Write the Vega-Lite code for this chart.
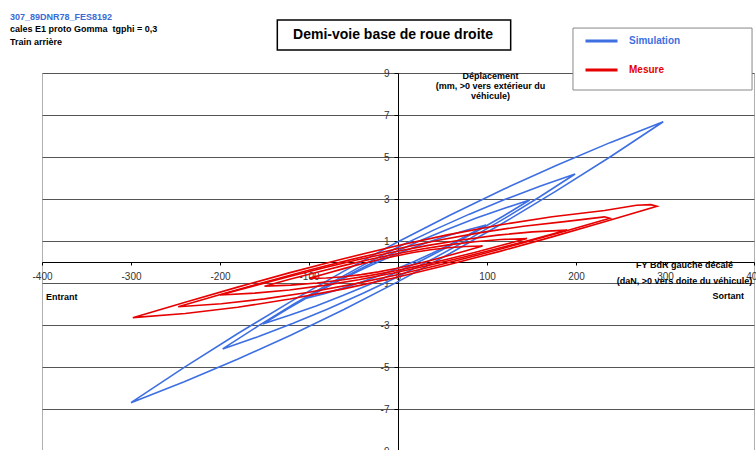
{
  "$schema": "https://vega.github.io/schema/vega-lite/v6.json",
  "width": 712,
  "height": 378,
  "autosize": {"type": "none"},
  "padding": {"left": 42, "top": 73, "right": 2, "bottom": 0},
  "background": "white",
  "config": {"font": "Liberation Sans", "view": {"stroke": "#b0b0b0", "strokeWidth": 1}},
  "title": {
    "text": "307_89DNR78_FES8192",
    "subtitle": ["cales E1 proto Gomma\u00a0 tgphi = 0,3", "Train arrière"],
    "anchor": "start",
    "frame": "group",
    "dx": -32,
    "offset": -28,
    "color": "#3a6bd6",
    "font": "Liberation Sans",
    "fontSize": 9,
    "fontWeight": "bold",
    "subtitleColor": "#000",
    "subtitleFont": "Liberation Sans",
    "subtitleFontSize": 9,
    "subtitleFontWeight": "bold",
    "subtitleLineHeight": 13,
    "subtitlePadding": 3
  },
  "datasets": {
    "loops": [
      {"s":"Simulation","l":"B1","i":0,"x":-300,"y":-6.7},
      {"s":"Simulation","l":"B1","i":1,"x":-240.2,"y":-5.704},
      {"s":"Simulation","l":"B1","i":2,"x":-180.4,"y":-4.632},
      {"s":"Simulation","l":"B1","i":3,"x":-120.6,"y":-3.484},
      {"s":"Simulation","l":"B1","i":4,"x":-60.8,"y":-2.26},
      {"s":"Simulation","l":"B1","i":5,"x":-1,"y":-0.96},
      {"s":"Simulation","l":"B1","i":6,"x":58.8,"y":0.416},
      {"s":"Simulation","l":"B1","i":7,"x":118.6,"y":1.868},
      {"s":"Simulation","l":"B1","i":8,"x":178.4,"y":3.396},
      {"s":"Simulation","l":"B1","i":9,"x":238.2,"y":5.0},
      {"s":"Simulation","l":"B1","i":10,"x":298,"y":6.68},
      {"s":"Simulation","l":"B1","i":11,"x":238.2,"y":5.684},
      {"s":"Simulation","l":"B1","i":12,"x":178.4,"y":4.612},
      {"s":"Simulation","l":"B1","i":13,"x":118.6,"y":3.464},
      {"s":"Simulation","l":"B1","i":14,"x":58.8,"y":2.24},
      {"s":"Simulation","l":"B1","i":15,"x":-1,"y":0.94},
      {"s":"Simulation","l":"B1","i":16,"x":-60.8,"y":-0.436},
      {"s":"Simulation","l":"B1","i":17,"x":-120.6,"y":-1.888},
      {"s":"Simulation","l":"B1","i":18,"x":-180.4,"y":-3.416},
      {"s":"Simulation","l":"B1","i":19,"x":-240.2,"y":-5.02},
      {"s":"Simulation","l":"B1","i":20,"x":-300,"y":-6.7},

      {"s":"Simulation","l":"B2","i":0,"x":-197,"y":-4.14},
      {"s":"Simulation","l":"B2","i":1,"x":-157.4,"y":-3.559},
      {"s":"Simulation","l":"B2","i":2,"x":-117.8,"y":-2.922},
      {"s":"Simulation","l":"B2","i":3,"x":-78.2,"y":-2.229},
      {"s":"Simulation","l":"B2","i":4,"x":-38.6,"y":-1.48},
      {"s":"Simulation","l":"B2","i":5,"x":1,"y":-0.675},
      {"s":"Simulation","l":"B2","i":6,"x":40.6,"y":0.186},
      {"s":"Simulation","l":"B2","i":7,"x":80.2,"y":1.103},
      {"s":"Simulation","l":"B2","i":8,"x":119.8,"y":2.076},
      {"s":"Simulation","l":"B2","i":9,"x":159.4,"y":3.105},
      {"s":"Simulation","l":"B2","i":10,"x":199,"y":4.19},
      {"s":"Simulation","l":"B2","i":11,"x":159.4,"y":3.609},
      {"s":"Simulation","l":"B2","i":12,"x":119.8,"y":2.972},
      {"s":"Simulation","l":"B2","i":13,"x":80.2,"y":2.279},
      {"s":"Simulation","l":"B2","i":14,"x":40.6,"y":1.53},
      {"s":"Simulation","l":"B2","i":15,"x":1,"y":0.725},
      {"s":"Simulation","l":"B2","i":16,"x":-38.6,"y":-0.136},
      {"s":"Simulation","l":"B2","i":17,"x":-78.2,"y":-1.053},
      {"s":"Simulation","l":"B2","i":18,"x":-117.8,"y":-2.026},
      {"s":"Simulation","l":"B2","i":19,"x":-157.4,"y":-3.055},
      {"s":"Simulation","l":"B2","i":20,"x":-197,"y":-4.14},

      {"s":"Simulation","l":"B3","i":0,"x":-152,"y":-2.95},
      {"s":"Simulation","l":"B3","i":1,"x":-122,"y":-2.54},
      {"s":"Simulation","l":"B3","i":2,"x":-92,"y":-2.09},
      {"s":"Simulation","l":"B3","i":3,"x":-62,"y":-1.6},
      {"s":"Simulation","l":"B3","i":4,"x":-32,"y":-1.07},
      {"s":"Simulation","l":"B3","i":5,"x":-2,"y":-0.5},
      {"s":"Simulation","l":"B3","i":6,"x":28,"y":0.11},
      {"s":"Simulation","l":"B3","i":7,"x":58,"y":0.76},
      {"s":"Simulation","l":"B3","i":8,"x":88,"y":1.45},
      {"s":"Simulation","l":"B3","i":9,"x":118,"y":2.18},
      {"s":"Simulation","l":"B3","i":10,"x":148,"y":2.95},
      {"s":"Simulation","l":"B3","i":11,"x":118,"y":2.54},
      {"s":"Simulation","l":"B3","i":12,"x":88,"y":2.09},
      {"s":"Simulation","l":"B3","i":13,"x":58,"y":1.6},
      {"s":"Simulation","l":"B3","i":14,"x":28,"y":1.07},
      {"s":"Simulation","l":"B3","i":15,"x":-2,"y":0.5},
      {"s":"Simulation","l":"B3","i":16,"x":-32,"y":-0.11},
      {"s":"Simulation","l":"B3","i":17,"x":-62,"y":-0.76},
      {"s":"Simulation","l":"B3","i":18,"x":-92,"y":-1.45},
      {"s":"Simulation","l":"B3","i":19,"x":-122,"y":-2.18},
      {"s":"Simulation","l":"B3","i":20,"x":-152,"y":-2.95},

      {"s":"Simulation","l":"B4","i":0,"x":-103,"y":-1.73},
      {"s":"Simulation","l":"B4","i":1,"x":-82.8,"y":-1.507},
      {"s":"Simulation","l":"B4","i":2,"x":-62.6,"y":-1.256},
      {"s":"Simulation","l":"B4","i":3,"x":-42.4,"y":-0.977},
      {"s":"Simulation","l":"B4","i":4,"x":-22.2,"y":-0.67},
      {"s":"Simulation","l":"B4","i":5,"x":-2,"y":-0.335},
      {"s":"Simulation","l":"B4","i":6,"x":18.2,"y":0.028},
      {"s":"Simulation","l":"B4","i":7,"x":38.4,"y":0.419},
      {"s":"Simulation","l":"B4","i":8,"x":58.6,"y":0.838},
      {"s":"Simulation","l":"B4","i":9,"x":78.8,"y":1.285},
      {"s":"Simulation","l":"B4","i":10,"x":99,"y":1.76},
      {"s":"Simulation","l":"B4","i":11,"x":78.8,"y":1.537},
      {"s":"Simulation","l":"B4","i":12,"x":58.6,"y":1.286},
      {"s":"Simulation","l":"B4","i":13,"x":38.4,"y":1.007},
      {"s":"Simulation","l":"B4","i":14,"x":18.2,"y":0.7},
      {"s":"Simulation","l":"B4","i":15,"x":-2,"y":0.365},
      {"s":"Simulation","l":"B4","i":16,"x":-22.2,"y":0.002},
      {"s":"Simulation","l":"B4","i":17,"x":-42.4,"y":-0.389},
      {"s":"Simulation","l":"B4","i":18,"x":-62.6,"y":-0.808},
      {"s":"Simulation","l":"B4","i":19,"x":-82.8,"y":-1.255},
      {"s":"Simulation","l":"B4","i":20,"x":-103,"y":-1.73},

      {"s":"Mesure","l":"R1","i":0,"x":-298,"y":-2.65},
      {"s":"Mesure","l":"R1","i":1,"x":-239.1,"y":-2.455},
      {"s":"Mesure","l":"R1","i":2,"x":-180.2,"y":-2.156},
      {"s":"Mesure","l":"R1","i":3,"x":-121.3,"y":-1.766},
      {"s":"Mesure","l":"R1","i":4,"x":-62.4,"y":-1.293},
      {"s":"Mesure","l":"R1","i":5,"x":-3.5,"y":-0.75},
      {"s":"Mesure","l":"R1","i":6,"x":55.4,"y":-0.147},
      {"s":"Mesure","l":"R1","i":7,"x":114.3,"y":0.506},
      {"s":"Mesure","l":"R1","i":8,"x":173.2,"y":1.196},
      {"s":"Mesure","l":"R1","i":9,"x":232.1,"y":1.915},
      {"s":"Mesure","l":"R1","i":10,"x":291,"y":2.65},
      {"s":"Mesure","l":"R1","i":11,"x":284,"y":2.73},
      {"s":"Mesure","l":"R1","i":12,"x":268,"y":2.7},
      {"s":"Mesure","l":"R1","i":13,"x":232.1,"y":2.455},
      {"s":"Mesure","l":"R1","i":14,"x":173.2,"y":2.156},
      {"s":"Mesure","l":"R1","i":15,"x":114.3,"y":1.766},
      {"s":"Mesure","l":"R1","i":16,"x":55.4,"y":1.293},
      {"s":"Mesure","l":"R1","i":17,"x":-3.5,"y":0.75},
      {"s":"Mesure","l":"R1","i":18,"x":-62.4,"y":0.147},
      {"s":"Mesure","l":"R1","i":19,"x":-121.3,"y":-0.506},
      {"s":"Mesure","l":"R1","i":20,"x":-180.2,"y":-1.196},
      {"s":"Mesure","l":"R1","i":21,"x":-239.1,"y":-1.915},
      {"s":"Mesure","l":"R1","i":22,"x":-298,"y":-2.65},

      {"s":"Mesure","l":"R2","i":0,"x":-247,"y":-2.13},
      {"s":"Mesure","l":"R2","i":1,"x":-198.5,"y":-1.986},
      {"s":"Mesure","l":"R2","i":2,"x":-150,"y":-1.756},
      {"s":"Mesure","l":"R2","i":3,"x":-101.5,"y":-1.45},
      {"s":"Mesure","l":"R2","i":4,"x":-53,"y":-1.077},
      {"s":"Mesure","l":"R2","i":5,"x":-4.5,"y":-0.645},
      {"s":"Mesure","l":"R2","i":6,"x":44,"y":-0.163},
      {"s":"Mesure","l":"R2","i":7,"x":92.5,"y":0.359},
      {"s":"Mesure","l":"R2","i":8,"x":141,"y":0.913},
      {"s":"Mesure","l":"R2","i":9,"x":189.5,"y":1.489},
      {"s":"Mesure","l":"R2","i":10,"x":238,"y":2.08},
      {"s":"Mesure","l":"R2","i":11,"x":232,"y":2.15},
      {"s":"Mesure","l":"R2","i":12,"x":189.5,"y":1.936},
      {"s":"Mesure","l":"R2","i":13,"x":141,"y":1.706},
      {"s":"Mesure","l":"R2","i":14,"x":92.5,"y":1.4},
      {"s":"Mesure","l":"R2","i":15,"x":44,"y":1.027},
      {"s":"Mesure","l":"R2","i":16,"x":-4.5,"y":0.595},
      {"s":"Mesure","l":"R2","i":17,"x":-53,"y":0.113},
      {"s":"Mesure","l":"R2","i":18,"x":-101.5,"y":-0.409},
      {"s":"Mesure","l":"R2","i":19,"x":-150,"y":-0.963},
      {"s":"Mesure","l":"R2","i":20,"x":-198.5,"y":-1.539},
      {"s":"Mesure","l":"R2","i":21,"x":-247,"y":-2.13},

      {"s":"Mesure","l":"R3","i":0,"x":-200,"y":-1.57},
      {"s":"Mesure","l":"R3","i":1,"x":-161,"y":-1.484},
      {"s":"Mesure","l":"R3","i":2,"x":-122,"y":-1.33},
      {"s":"Mesure","l":"R3","i":3,"x":-83,"y":-1.113},
      {"s":"Mesure","l":"R3","i":4,"x":-44,"y":-0.843},
      {"s":"Mesure","l":"R3","i":5,"x":-5,"y":-0.525},
      {"s":"Mesure","l":"R3","i":6,"x":34,"y":-0.167},
      {"s":"Mesure","l":"R3","i":7,"x":73,"y":0.223},
      {"s":"Mesure","l":"R3","i":8,"x":112,"y":0.64},
      {"s":"Mesure","l":"R3","i":9,"x":151,"y":1.074},
      {"s":"Mesure","l":"R3","i":10,"x":190,"y":1.52},
      {"s":"Mesure","l":"R3","i":11,"x":151,"y":1.434},
      {"s":"Mesure","l":"R3","i":12,"x":112,"y":1.28},
      {"s":"Mesure","l":"R3","i":13,"x":73,"y":1.063},
      {"s":"Mesure","l":"R3","i":14,"x":34,"y":0.793},
      {"s":"Mesure","l":"R3","i":15,"x":-5,"y":0.475},
      {"s":"Mesure","l":"R3","i":16,"x":-44,"y":0.117},
      {"s":"Mesure","l":"R3","i":17,"x":-83,"y":-0.273},
      {"s":"Mesure","l":"R3","i":18,"x":-122,"y":-0.69},
      {"s":"Mesure","l":"R3","i":19,"x":-161,"y":-1.124},
      {"s":"Mesure","l":"R3","i":20,"x":-200,"y":-1.57},

      {"s":"Mesure","l":"R4","i":0,"x":-150,"y":-1.15},
      {"s":"Mesure","l":"R4","i":1,"x":-120.5,"y":-1.102},
      {"s":"Mesure","l":"R4","i":2,"x":-91,"y":-0.998},
      {"s":"Mesure","l":"R4","i":3,"x":-61.5,"y":-0.845},
      {"s":"Mesure","l":"R4","i":4,"x":-32,"y":-0.649},
      {"s":"Mesure","l":"R4","i":5,"x":-2.5,"y":-0.415},
      {"s":"Mesure","l":"R4","i":6,"x":27,"y":-0.149},
      {"s":"Mesure","l":"R4","i":7,"x":56.5,"y":0.143},
      {"s":"Mesure","l":"R4","i":8,"x":86,"y":0.456},
      {"s":"Mesure","l":"R4","i":9,"x":115.5,"y":0.784},
      {"s":"Mesure","l":"R4","i":10,"x":145,"y":1.12},
      {"s":"Mesure","l":"R4","i":11,"x":115.5,"y":1.072},
      {"s":"Mesure","l":"R4","i":12,"x":86,"y":0.968},
      {"s":"Mesure","l":"R4","i":13,"x":56.5,"y":0.815},
      {"s":"Mesure","l":"R4","i":14,"x":27,"y":0.619},
      {"s":"Mesure","l":"R4","i":15,"x":-2.5,"y":0.385},
      {"s":"Mesure","l":"R4","i":16,"x":-32,"y":0.119},
      {"s":"Mesure","l":"R4","i":17,"x":-61.5,"y":-0.173},
      {"s":"Mesure","l":"R4","i":18,"x":-91,"y":-0.486},
      {"s":"Mesure","l":"R4","i":19,"x":-120.5,"y":-0.814},
      {"s":"Mesure","l":"R4","i":20,"x":-150,"y":-1.15},

      {"s":"Mesure","l":"R5","i":0,"x":-100,"y":-0.78},
      {"s":"Mesure","l":"R5","i":1,"x":-80.5,"y":-0.76},
      {"s":"Mesure","l":"R5","i":2,"x":-61,"y":-0.699},
      {"s":"Mesure","l":"R5","i":3,"x":-41.5,"y":-0.6},
      {"s":"Mesure","l":"R5","i":4,"x":-22,"y":-0.469},
      {"s":"Mesure","l":"R5","i":5,"x":-2.5,"y":-0.31},
      {"s":"Mesure","l":"R5","i":6,"x":17,"y":-0.127},
      {"s":"Mesure","l":"R5","i":7,"x":36.5,"y":0.076},
      {"s":"Mesure","l":"R5","i":8,"x":56,"y":0.295},
      {"s":"Mesure","l":"R5","i":9,"x":75.5,"y":0.524},
      {"s":"Mesure","l":"R5","i":10,"x":95,"y":0.76},
      {"s":"Mesure","l":"R5","i":11,"x":75.5,"y":0.74},
      {"s":"Mesure","l":"R5","i":12,"x":56,"y":0.679},
      {"s":"Mesure","l":"R5","i":13,"x":36.5,"y":0.58},
      {"s":"Mesure","l":"R5","i":14,"x":17,"y":0.449},
      {"s":"Mesure","l":"R5","i":15,"x":-2.5,"y":0.29},
      {"s":"Mesure","l":"R5","i":16,"x":-22,"y":0.107},
      {"s":"Mesure","l":"R5","i":17,"x":-41.5,"y":-0.096},
      {"s":"Mesure","l":"R5","i":18,"x":-61,"y":-0.315},
      {"s":"Mesure","l":"R5","i":19,"x":-80.5,"y":-0.544},
      {"s":"Mesure","l":"R5","i":20,"x":-100,"y":-0.78}
    ]
  },
  "layer": [
    {
      "data": {"name": "loops"},
      "transform": [{"filter": "datum.s === 'Simulation'"}],
      "mark": {"type": "line", "strokeWidth": 1.6},
      "encoding": {
        "x": {
          "field": "x", "type": "quantitative",
          "scale": {"domain": [-400, 400], "nice": false, "zero": false},
          "axis": {
            "offset": -189,
            "values": [-400, -300, -200, -100, 0, 100, 200, 300, 400],
            "labelExpr": "datum.value < 0 ? '-' + abs(datum.value) : '' + datum.value",
            "grid": false,
            "domainColor": "#000",
            "tickColor": "#000",
            "tickSize": 3,
            "labelPadding": 6,
            "labelFontSize": 10,
            "labelColor": "#333",
            "labelFlush": false,
            "labelOverlap": false,
            "title": ["FY BdR gauche décalé", "(daN, >0 vers doite du véhicule)"],
            "titleX": 642,
            "titleY": -2,
            "titleAlign": "center",
            "titleBaseline": "top",
            "titleFontSize": 9,
            "titleFontWeight": "bold",
            "titleLineHeight": 16,
            "titleColor": "#000"
          }
        },
        "y": {
          "field": "y", "type": "quantitative",
          "scale": {"domain": [-9, 9], "nice": false, "zero": false},
          "axis": {
            "offset": -356,
            "values": [-9, -7, -5, -3, -1, 1, 3, 5, 7, 9],
            "labelExpr": "datum.value < 0 ? '-' + abs(datum.value) : '' + datum.value",
            "grid": true,
            "gridColor": "#555",
            "gridWidth": 1,
            "domainColor": "#000",
            "tickColor": "#000",
            "tickSize": 4,
            "labelPadding": 5,
            "labelFontSize": 10,
            "labelColor": "#333",
            "labelFlush": false,
            "labelOverlap": false,
            "title": ["Déplacement", "(mm, >0 vers extérieur du", "véhicule)"],
            "titleAngle": 0,
            "titleX": 92,
            "titleY": -2,
            "titleAlign": "center",
            "titleBaseline": "top",
            "titleFontSize": 9,
            "titleFontWeight": "bold",
            "titleLineHeight": 10,
            "titleColor": "#000"
          }
        },
        "color": {
          "field": "s", "type": "nominal",
          "scale": {"domain": ["Simulation", "Mesure"], "range": ["#3d6fe2", "#e60000"]},
          "legend": {
            "orient": "none",
            "legendX": 542,
            "legendY": -42,
            "title": null,
            "symbolType": "stroke",
            "symbolSize": 1024,
            "symbolStrokeWidth": 3,
            "clipHeight": 20,
            "rowPadding": 9,
            "padding": 0,
            "labelOffset": 10,
            "labelFont": "Liberation Sans",
            "labelFontSize": 10,
            "labelFontWeight": "bold",
            "labelColor": {"expr": "datum.label === 'Simulation' ? '#3d6fe2' : '#e60000'"}
          }
        },
        "detail": {"field": "l"},
        "order": {"field": "i", "type": "quantitative"}
      }
    },
    {
      "data": {"name": "loops"},
      "transform": [{"filter": "datum.s === 'Mesure'"}],
      "mark": {"type": "line", "strokeWidth": 1.6},
      "encoding": {
        "x": {"field": "x", "type": "quantitative"},
        "y": {"field": "y", "type": "quantitative"},
        "color": {"field": "s", "type": "nominal"},
        "detail": {"field": "l"},
        "order": {"field": "i", "type": "quantitative"}
      }
    },
    {
      "data": {"values": [{}]},
      "mark": {"type": "rect", "fill": "white", "stroke": "#000", "strokeWidth": 1.5},
      "encoding": {
        "x": {"datum": -135.6}, "x2": {"datum": 126.6},
        "y": {"datum": 11.52}, "y2": {"datum": 10.1}
      }
    },
    {
      "data": {"values": [{}]},
      "mark": {"type": "text", "text": "Demi-voie base de roue droite", "font": "Liberation Sans", "fontSize": 14, "fontWeight": "bold", "align": "center", "baseline": "middle", "color": "#000"},
      "encoding": {"x": {"datum": -5.6}, "y": {"datum": 10.79}}
    },
    {
      "data": {"values": [{}]},
      "mark": {"type": "rect", "fill": "white", "stroke": "#888", "strokeWidth": 1},
      "encoding": {
        "x": {"datum": 196.6}, "x2": {"datum": 397.8},
        "y": {"datum": 11.14}, "y2": {"datum": 8.19}
      }
    },
    {
      "data": {"values": [{}]},
      "mark": {"type": "text", "text": "Entrant", "font": "Liberation Sans", "fontSize": 9, "fontWeight": "bold", "align": "left", "baseline": "middle", "color": "#000"},
      "encoding": {"x": {"datum": -395.5}, "y": {"datum": -1.667}}
    },
    {
      "data": {"values": [{}]},
      "mark": {"type": "text", "text": "Sortant", "font": "Liberation Sans", "fontSize": 9, "fontWeight": "bold", "align": "right", "baseline": "middle", "color": "#000"},
      "encoding": {"x": {"datum": 388.8}, "y": {"datum": -1.62}}
    }
  ]
}
